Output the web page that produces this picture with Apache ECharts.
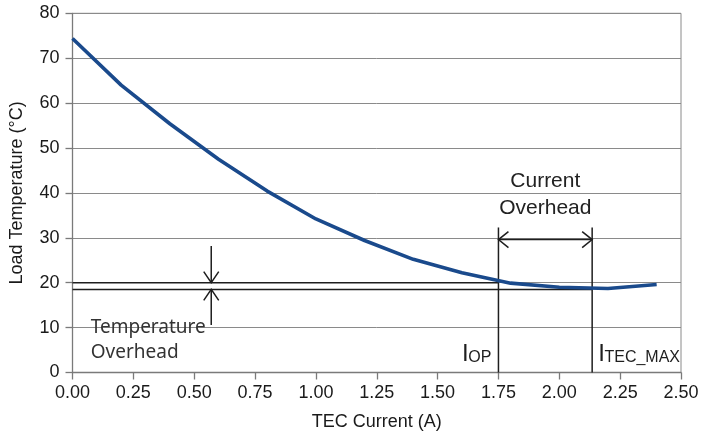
<!DOCTYPE html>
<html><head><meta charset="utf-8">
<script src="https://cdn.jsdelivr.net/npm/echarts@6/dist/echarts.min.js"></script>
<style>html,body{margin:0;padding:0;background:#fff}#c{width:702px;height:438px}</style>
</head><body><div id="c"></div>
<script>
// ---- data ----
const currents = [0, 0.2, 0.4, 0.6, 0.8, 1.0, 1.2, 1.4, 1.6, 1.8, 2.0, 2.2, 2.4];
const temps = [74.4, 64.0, 55.4, 47.5, 40.4, 34.2, 29.4, 25.2, 22.2, 19.9, 19.0, 18.7, 19.6];
const iOp = 1.75, iTecMax = 2.135;
const tempLimit = 20, tempFloor = 18.5;
const markerTop = 32.3, overheadArrowY = 29.6;
const tempArrowX = 0.57, tempArrowTop = 28.2, tempArrowBottom = 10.6;
const currentLabel = ['Current', 'Overhead'];
const tempLabel = ['Temperature', 'Overhead'];
const currentLabelPos = [(iOp + iTecMax) / 2, 39.6];
const tempLabelPos = [0.075, 7.17];
const xMin = 0, xMax = 2.5, xStep = 0.25;
const yMin = 0, yMax = 80, yStep = 10;

const FONT = '"Liberation Sans", Arial, sans-serif';
const INK = '#1e1e1e';
const chart = echarts.init(document.getElementById('c'), null, {renderer: 'canvas'});

function seg(a, b, w) {
  return {type: 'line', shape: {x1: a[0], y1: a[1], x2: b[0], y2: b[1]}, style: {stroke: INK, lineWidth: w || 1.5}};
}
function chevron(tip, dir, len, half) {
  // dir: unit vector pointing toward the tip
  const nx = -dir[1], ny = dir[0];
  const bx = tip[0] - dir[0] * len, by = tip[1] - dir[1] * len;
  return {type: 'polyline', shape: {points: [[bx + nx * half, by + ny * half], tip, [bx - nx * half, by - ny * half]]},
    style: {stroke: INK, lineWidth: 1.5, fill: null}};
}
function txt(x, y, text, size, align, vAlign, family, extra) {
  return {type: 'text', x: x, y: y, style: Object.assign({text: text, fontSize: size, fontFamily: family || FONT,
    fill: INK, align: align, verticalAlign: vAlign}, extra || {})};
}

function renderAnnotations(params, api) {
  const c = api.coord;
  const ch = [];
  // horizontal temperature lines
  ch.push(seg(c([xMin, tempLimit]), c([iOp, tempLimit])));
  ch.push(seg(c([xMin, tempFloor]), c([iTecMax, tempFloor])));
  // vertical current markers
  ch.push(seg(c([iOp, yMin]), c([iOp, markerTop])));
  ch.push(seg(c([iTecMax, yMin]), c([iTecMax, markerTop])));
  // current overhead double arrow
  const a1 = c([iOp, overheadArrowY]), a2 = c([iTecMax, overheadArrowY]);
  ch.push(seg(a1, a2));
  ch.push(chevron(a1, [-1, 0], 10, 8));
  ch.push(chevron(a2, [1, 0], 10, 8));
  // temperature overhead arrows
  const t1 = c([tempArrowX, tempArrowTop]), t2 = c([tempArrowX, tempLimit]);
  ch.push(seg(t1, t2));
  ch.push(chevron(t2, [0, 1], 11, 7.5));
  const b1 = c([tempArrowX, tempArrowBottom]), b2 = c([tempArrowX, tempFloor]);
  ch.push(seg(b1, b2));
  ch.push(chevron(b2, [0, -1], 11, 7.5));
  // labels
  const cl = c(currentLabelPos);
  ch.push(txt(cl[0], cl[1], currentLabel.join('\n'), 21, 'center', 'middle', FONT, {lineHeight: 26.6, fill: '#222'}));
  const tl = c(tempLabelPos);
  ch.push(txt(tl[0], tl[1], tempLabel.join('\n'), 19, 'left', 'middle', '"Noto Sans", sans-serif', {lineHeight: 25.3, fill: '#333'}));
  // I_OP and I_TEC_MAX
  const op = c([iOp, yMin]);
  const base = op[1] - 9.3;
  ch.push(txt(op[0] - 36.5, base - 0.35 * 24, 'I', 24, 'left', 'middle'));
  ch.push(txt(op[0] - 30.2, base - 0.35 * 16, 'OP', 16, 'left', 'middle'));
  const tm = c([iTecMax, yMin]);
  ch.push(txt(tm[0] + 6, base - 0.35 * 24, 'I', 24, 'left', 'middle'));
  ch.push(txt(tm[0] + 12.3, base - 0.35 * 16, 'TEC_MAX', 16, 'left', 'middle'));
  return {type: 'group', children: ch};
}

chart.setOption({
  animation: false,
  backgroundColor: '#fff',
  grid: {left: 72.5, right: 21, top: 13.3, bottom: 65.5, show: true, borderColor: '#8a8a8a', borderWidth: 1},
  xAxis: {
    type: 'value', min: xMin, max: xMax, interval: xStep,
    name: 'TEC Current (A)', nameLocation: 'middle', nameGap: 41,
    nameTextStyle: {fontSize: 18, fontFamily: FONT, color: '#1a1a1a'},
    axisLine: {show: true, lineStyle: {color: '#7a7a7a', width: 1.3}},
    axisTick: {show: true, inside: false, length: 7, lineStyle: {color: '#7a7a7a', width: 1.3}},
    axisLabel: {fontSize: 18, fontFamily: FONT, color: '#1a1a1a', margin: 12, formatter: v => v.toFixed(2)},
    splitLine: {show: false}
  },
  yAxis: {
    type: 'value', min: yMin, max: yMax, interval: yStep,
    name: 'Load Temperature (°C)', nameLocation: 'middle', nameGap: 46,
    nameTextStyle: {fontSize: 18, fontFamily: FONT, color: '#1a1a1a'},
    axisLine: {show: true, lineStyle: {color: '#7a7a7a', width: 1.3}},
    axisTick: {show: true, inside: false, length: 7, lineStyle: {color: '#7a7a7a', width: 1.3}},
    axisLabel: {fontSize: 18, fontFamily: FONT, color: '#1a1a1a', margin: 13},
    splitLine: {show: true, lineStyle: {color: '#8a8a8a', width: 1}}
  },
  series: [
    {type: 'custom', z: 2, silent: true, data: [[0, 0]], renderItem: renderAnnotations, clip: false},
    {type: 'line', z: 3, data: currents.map((x, i) => [x, temps[i]]), showSymbol: false, symbol: 'none',
      lineStyle: {color: '#1a4a8c', width: 3.6}, smooth: false}
  ]
});
</script>
</body></html>
